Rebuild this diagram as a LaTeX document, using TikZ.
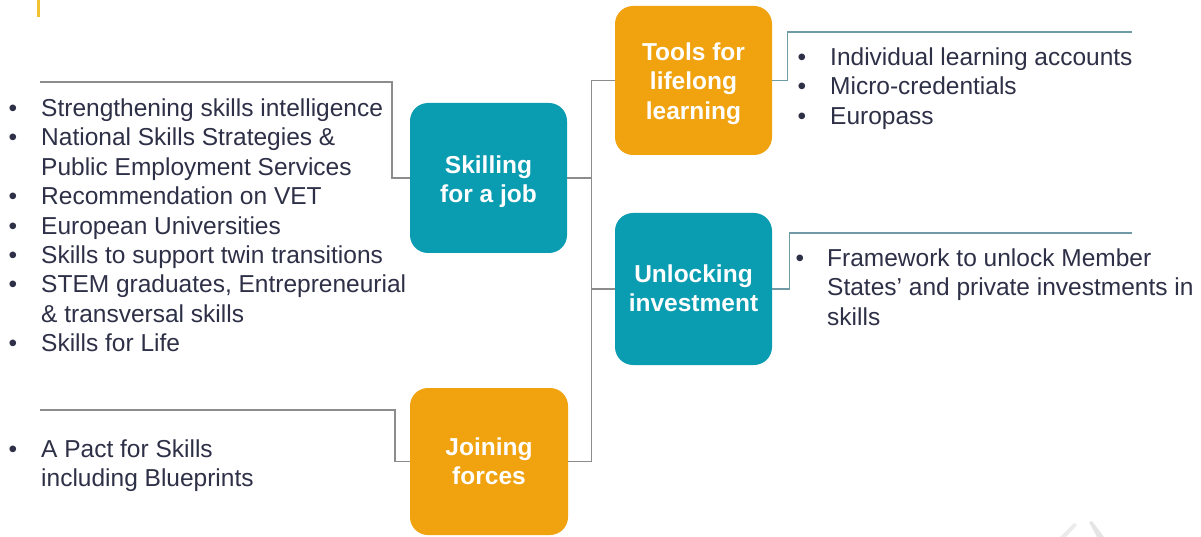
\documentclass[tikz,border=0pt]{standalone}
\usepackage{fontspec}
\setmainfont{Liberation Sans}
\definecolor{tealbox}{HTML}{0A9CB0}
\definecolor{orangebox}{HTML}{F0A20F}
\definecolor{ink}{HTML}{2E3047}
\definecolor{linegray}{HTML}{8C8C8C}
\definecolor{lineteal}{HTML}{6F9AA6}
\definecolor{accent}{HTML}{F2C230}
\tikzset{
  boxbase/.style={rounded corners=18pt, inner sep=0pt},
  boxtxt/.style={text=white, align=center, inner sep=0pt,
    font=\bfseries\fontsize{24.5}{29.5}\selectfont},
  tbox/.style={boxbase, fill=tealbox},
  obox/.style={boxbase, fill=orangebox},
  itemtxt/.style={anchor=base west, inner sep=0pt, text=ink,
    font=\fontsize{24.5}{29.5}\selectfont},
  conn/.style={draw=linegray, line width=1.3pt},
  connr/.style={draw=lineteal, line width=1.3pt},
}
\begin{document}
\begin{tikzpicture}[x=1pt,y=-1pt]
\useasboundingbox (0,0) rectangle (1201,537);
\fill[white] (0,0) rectangle (1201,537);

% accent mark top-left
\draw[accent, line width=3pt] (38,0) -- (38,17);

% faint shapes bottom right
\fill[black!8] (1060,537) -- (1074,523) -- (1077,525) -- (1066,537) -- cycle;
\fill[black!10] (1089,522) -- (1092,521) -- (1104,537) -- (1097,537) -- cycle;

% boxes
\node[tbox, minimum width=157pt, minimum height=150pt,
  label={[boxtxt, name=skillT, yshift=-3.5pt]center:{Skilling\\for a job}}] (skill) at (488.5,178) {};
\node[obox, minimum width=157pt, minimum height=149pt,
  label={[boxtxt, name=toolsT, yshift=-3pt]center:{Tools for\\lifelong\\learning}}] (tools) at (693.5,80.5) {};
\node[tbox, minimum width=157pt, minimum height=152pt,
  label={[boxtxt, name=unlockT, yshift=1pt]center:{Unlocking\\investment}}] (unlock) at (693.5,289) {};
\node[obox, minimum width=158pt, minimum height=147pt,
  label={[boxtxt, name=joinT, yshift=0.5pt]center:{Joining\\forces}}] (join) at (489,461.5) {};

% connector ends
\coordinate (sA) at (40,82);
\coordinate (jA) at (40,410);
\coordinate (tA) at (1132,32);
\coordinate (uA) at (1132,233);

% left connectors
\draw[conn] (sA) -- ++(352,0) |- (skill.west);
\draw[conn] (jA) -- ++(355,0) |- (join.west);

% central bus
\draw[conn] (tools.west) -- ++(-23,0) coordinate (bt) -- (bt |- join.east) -- (join.east);
\draw[conn] (skill.east) -- (skill.east -| bt);
\draw[conn] (unlock.west) -- (unlock.west -| bt);

% right connectors
\draw[connr] (tools.east) -- ++(15,0) |- (tA);
\draw[connr] (unlock.east) -- ++(17,0) |- (uA);

% left list
\node[itemtxt] (b1) at (8.5,116.5) {\textbullet};
\node[itemtxt] (l1) at (41,116.5) {Strengthening skills intelligence};
\node[itemtxt] (b2) at (8.5,145.9) {\textbullet};
\node[itemtxt] (l2) at (41,145.9) {National Skills Strategies \&};
\node[itemtxt] (l3) at (41,175.3) {Public Employment Services};
\node[itemtxt] (b4) at (8.5,204.7) {\textbullet};
\node[itemtxt] (l4) at (41,204.7) {Recommendation on VET};
\node[itemtxt] (b5) at (8.5,234.1) {\textbullet};
\node[itemtxt] (l5) at (41,234.1) {European Universities};
\node[itemtxt] (b6) at (8.5,263.5) {\textbullet};
\node[itemtxt] (l6) at (41,263.5) {Skills to support twin transitions};
\node[itemtxt] (b7) at (8.5,292.9) {\textbullet};
\node[itemtxt] (l7) at (41,292.9) {STEM graduates, Entrepreneurial};
\node[itemtxt] (l8) at (41,322.3) {\& transversal skills};
\node[itemtxt] (b9) at (8.5,351.7) {\textbullet};
\node[itemtxt] (l9) at (41,351.7) {Skills for Life};

% joining list
\node[itemtxt] (jb1) at (8.5,457) {\textbullet};
\node[itemtxt] (j1) at (41,457) {A Pact for Skills};
\node[itemtxt] (j2) at (41,486) {including Blueprints};

% tools list
\node[itemtxt] (tb1) at (797.5,65.5) {\textbullet};
\node[itemtxt] (t1) at (830,65.5) {Individual learning accounts};
\node[itemtxt] (tb2) at (797.5,95) {\textbullet};
\node[itemtxt] (t2) at (830,95) {Micro-credentials};
\node[itemtxt] (tb3) at (797.5,124.5) {\textbullet};
\node[itemtxt] (t3) at (830,124.5) {Europass};

% unlocking list
\node[itemtxt] (ub1) at (795.5,266) {\textbullet};
\node[itemtxt] (u1) at (827,266) {Framework to unlock Member};
\node[itemtxt] (u2) at (827,295.5) {States’ and private investments in};
\node[itemtxt] (u3) at (827,325) {skills};
\end{tikzpicture}
\end{document}
